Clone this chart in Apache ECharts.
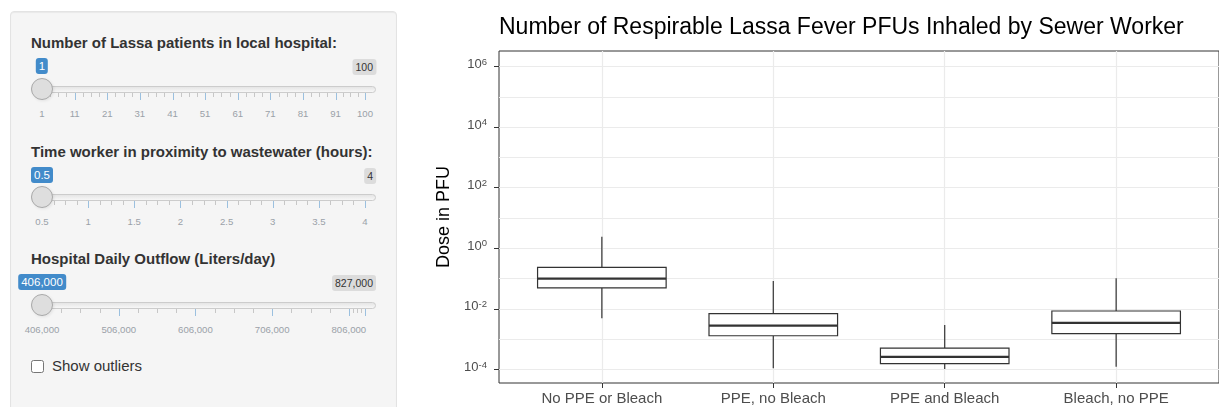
<!DOCTYPE html>
<html><head><meta charset="utf-8">
<script src="https://cdn.jsdelivr.net/npm/echarts@6/dist/echarts.min.js"></script>
<style>
html,body{margin:0;padding:0;background:#fff;width:1219px;height:407px;overflow:hidden;font-family:"Liberation Sans",Arial,Helvetica,sans-serif;}
#chart{position:absolute;left:0;top:0;width:1219px;height:407px;z-index:1;}
#ui{position:absolute;left:0;top:0;width:1219px;height:407px;z-index:2;pointer-events:none;}
#well{position:absolute;left:10px;top:11px;width:387px;height:420px;box-sizing:border-box;background:#f5f5f5;border:1px solid #e3e3e3;border-radius:4px;box-shadow:inset 0 1px 1px rgba(0,0,0,.05);}
.lbl{position:absolute;left:31px;font-size:15px;font-weight:bold;line-height:17px;color:#333;white-space:nowrap;}
.track{position:absolute;box-sizing:border-box;height:7px;border:1px solid #ccc;border-radius:8px;background:linear-gradient(to bottom,#ddd -50%,#fff 150%);}
.handle{position:absolute;box-sizing:border-box;width:22px;height:22px;border:1px solid #aaa;border-radius:50%;background:#dedede;box-shadow:1px 1px 3px rgba(0,0,0,.08);}
.single{position:absolute;transform:translateX(-50%);font-size:11.5px;line-height:14px;padding:1px 3px;background:#428bca;color:#fff;border-radius:3px;white-space:nowrap;}
.maxb{position:absolute;transform:translateX(-100%);font-size:10.5px;line-height:14px;padding:1px 3px;background:rgba(0,0,0,.1);color:#333;border-radius:3px;white-space:nowrap;}
.pol{position:absolute;width:1px;height:7px;background:#428bca;opacity:.5;}
.pol.small{height:4px;background:#999;}
.gtxt{position:absolute;transform:translate(-50%,-50%);font-size:9.6px;line-height:11px;color:#9aa1a8;white-space:nowrap;}
.cb{position:absolute;left:31px;top:360px;width:13px;height:13px;box-sizing:border-box;border:1px solid #767676;border-radius:2.5px;background:#fff;}
.cbt{position:absolute;left:52px;top:357px;font-size:15px;line-height:17px;color:#333;white-space:nowrap;}
</style>
</head><body>
<div id="chart"></div>
<div id="ui"><div id="well"></div></div>
<script>
// ---------- chart data ----------
const categories = ['No PPE or Bleach', 'PPE, no Bleach', 'PPE and Bleach', 'Bleach, no PPE'];
const whiskerLow  = [0.0049, 0.00011, 0.000104, 0.000124];
const q1          = [0.049, 0.0013, 0.000155, 0.00152];
const median      = [0.099, 0.0028, 0.00026, 0.00343];
const q3          = [0.236, 0.00695, 0.00051, 0.0085];
const whiskerHigh = [2.41, 0.083, 0.00294, 0.102];
const yMajorTicks = [1e-4, 1e-2, 1, 1e2, 1e4, 1e6];
const yMinorTicks = [1e-3, 1e-1, 1e1, 1e3, 1e5];
const yMin = 3.58e-5;
const yMax = 3.24e6;
const chartTitle = 'Number of Respirable Lassa Fever PFUs Inhaled by Sewer Worker';
const yTitle = 'Dose in PFU';

// ---------- sidebar data ----------
const sliderLabels = ['Number of Lassa patients in local hospital:', 'Time worker in proximity to wastewater (hours):', 'Hospital Daily Outflow (Liters/day)'];
const sliderMin = [1, 0.5, 406000];
const sliderMax = [100, 4, 827000];
const sliderValue = [1, 0.5, 406000];
const sliderGridValues = [
  [1, 11, 21, 31, 41, 51, 61, 71, 81, 91, 100],
  [0.5, 1, 1.5, 2, 2.5, 3, 3.5, 4],
  [406000, 506000, 606000, 706000, 806000, 827000]
];
const sliderGridShown = [
  [1, 11, 21, 31, 41, 51, 61, 71, 81, 91, 100],
  [0.5, 1, 1.5, 2, 2.5, 3, 3.5, 4],
  [406000, 506000, 606000, 706000, 806000]
];
const checkboxLabel = 'Show outliers';

// ---------- sidebar build ----------
(function(){
  const ui = document.getElementById('ui');
  const labelTops = [34, 143, 250];
  const handleCenters = [88.7, 197.3, 305];
  const X0 = 42, X1 = 365, TR = 376;
  const fmt = v => v >= 1000 ? v.toLocaleString('en-US') : String(v);
  function el(cls, css, text){ const d = document.createElement('div'); d.className = cls; Object.assign(d.style, css); if (text != null) d.textContent = text; ui.appendChild(d); return d; }
  sliderLabels.forEach((lab, i) => {
    const hc = handleCenters[i];
    const mn = sliderMin[i], mx = sliderMax[i];
    const px = v => X0 + (v - mn) / (mx - mn) * (X1 - X0);
    el('lbl', {top: labelTops[i] + 'px'}, lab);
    el('track', {left: '31px', top: (hc - 3) + 'px', width: (TR - 31) + 'px'});
    const g = sliderGridValues[i];
    g.forEach((v, k) => {
      el('pol', {left: (Math.round(px(v)) ) + 'px', top: (hc + 4) + 'px'});
      if (k < g.length - 1) {
        for (let s = 1; s <= 3; s++) {
          const vv = v + (g[k+1] - v) * s / 4;
          el('pol small', {left: Math.round(px(vv)) + 'px', top: (hc + 4) + 'px'});
        }
      }
    });
    sliderGridShown[i].forEach(v => el('gtxt', {left: px(v) + 'px', top: (hc + 24) + 'px'}, fmt(v)));
    el('maxb', {left: TR + 'px', top: (hc - 29.7) + 'px'}, fmt(mx));
    el('handle', {left: (px(sliderValue[i]) - 11) + 'px', top: (hc - 11) + 'px'});
    el('single', {left: px(sliderValue[i]) + 'px', top: (hc - 30.7) + 'px'}, fmt(sliderValue[i]));
  });
  el('cb', {});
  el('cbt', {}, checkboxLabel);
})();

// ---------- chart ----------
const FONT = '"Liberation Sans", Arial, Helvetica, sans-serif';
const boxData = categories.map((c, i) => [i + 1, whiskerLow[i], q1[i], median[i], q3[i], whiskerHigh[i]]);

function renderBox(params, api) {
  const x = api.value(0);
  const lo = api.value(1), b1 = api.value(2), md = api.value(3), b3 = api.value(4), hi = api.value(5);
  const hw = 0.375;
  const tl = api.coord([x - hw, b3]);
  const br = api.coord([x + hw, b1]);
  const mL = api.coord([x - hw, md]);
  const mR = api.coord([x + hw, md]);
  const pHi = api.coord([x, hi]), pQ3 = api.coord([x, b3]), pQ1 = api.coord([x, b1]), pLo = api.coord([x, lo]);
  const st = {stroke: '#333333', lineWidth: 1.2, fill: null};
  return {
    type: 'group',
    children: [
      {type: 'line', shape: {x1: pHi[0], y1: pHi[1], x2: pQ3[0], y2: pQ3[1]}, style: st},
      {type: 'line', shape: {x1: pQ1[0], y1: pQ1[1], x2: pLo[0], y2: pLo[1]}, style: st},
      {type: 'rect', shape: {x: tl[0], y: tl[1], width: br[0] - tl[0], height: br[1] - tl[1]}, style: {stroke: '#333333', lineWidth: 1.2, fill: '#ffffff'}},
      {type: 'line', shape: {x1: mL[0], y1: mL[1], x2: mR[0], y2: mR[1]}, style: {stroke: '#333333', lineWidth: 2.3}}
    ]
  };
}

const chart = echarts.init(document.getElementById('chart'), null, {renderer: 'canvas'});
chart.setOption({
  backgroundColor: '#ffffff',
  animation: false,
  textStyle: {fontFamily: FONT},
  title: {
    text: chartTitle, left: 499, top: 16, padding: 0,
    textStyle: {fontSize: 23, fontWeight: 'normal', color: '#000000', fontFamily: FONT}
  },
  grid: {left: 499, top: 51, width: 732, height: 332, show: true, borderColor: '#333333', borderWidth: 1, backgroundColor: 'transparent', containLabel: false},
  xAxis: {
    type: 'value', min: 0.4, max: 4.6,
    axisLine: {show: false},
    axisTick: {show: true, customValues: [1, 2, 3, 4], length: 5, lineStyle: {color: '#333333', width: 1}},
    axisLabel: {customValues: [1, 2, 3, 4], formatter: v => categories[Math.round(v) - 1], fontSize: 15, color: '#4d4d4d', margin: 8, fontFamily: FONT},
    splitLine: {show: true, lineStyle: {color: '#ebebeb', width: 1.2}}
  },
  yAxis: [{
    type: 'log', logBase: 10, min: yMin, max: yMax,
    name: yTitle, nameLocation: 'middle', nameGap: 41,
    nameTextStyle: {fontSize: 18, color: '#000000', fontFamily: FONT},
    axisLine: {show: false},
    axisTick: {show: true, customValues: yMajorTicks, length: 5, lineStyle: {color: '#333333', width: 1}},
    axisLabel: {
      customValues: yMajorTicks, margin: 12, padding: [0, 0, 5, 0],
      formatter: v => '{b|10}{s|' + Math.round(Math.log10(v)) + '}',
      rich: {
        b: {fontSize: 13, color: '#4d4d4d', lineHeight: 14, verticalAlign: 'bottom', fontFamily: FONT},
        s: {fontSize: 9.5, color: '#4d4d4d', lineHeight: 14, verticalAlign: 'top', padding: [0, 0, 5, 0], fontFamily: FONT}
      }
    },
    splitLine: {show: true, lineStyle: {color: '#ebebeb', width: 1.2}}
  }, {
    type: 'log', logBase: 10, min: yMin, max: yMax, position: 'left',
    axisLine: {show: false},
    axisTick: {show: false, customValues: yMinorTicks},
    axisLabel: {show: false, customValues: yMinorTicks},
    splitLine: {show: true, lineStyle: {color: '#ebebeb', width: 1}}
  }],
  series: [{
    type: 'custom', xAxisIndex: 0, yAxisIndex: 0,
    data: boxData,
    encode: {x: 0, y: [1, 2, 3, 4, 5]},
    renderItem: renderBox,
    z: 5
  }]
});
</script>
</body></html>
